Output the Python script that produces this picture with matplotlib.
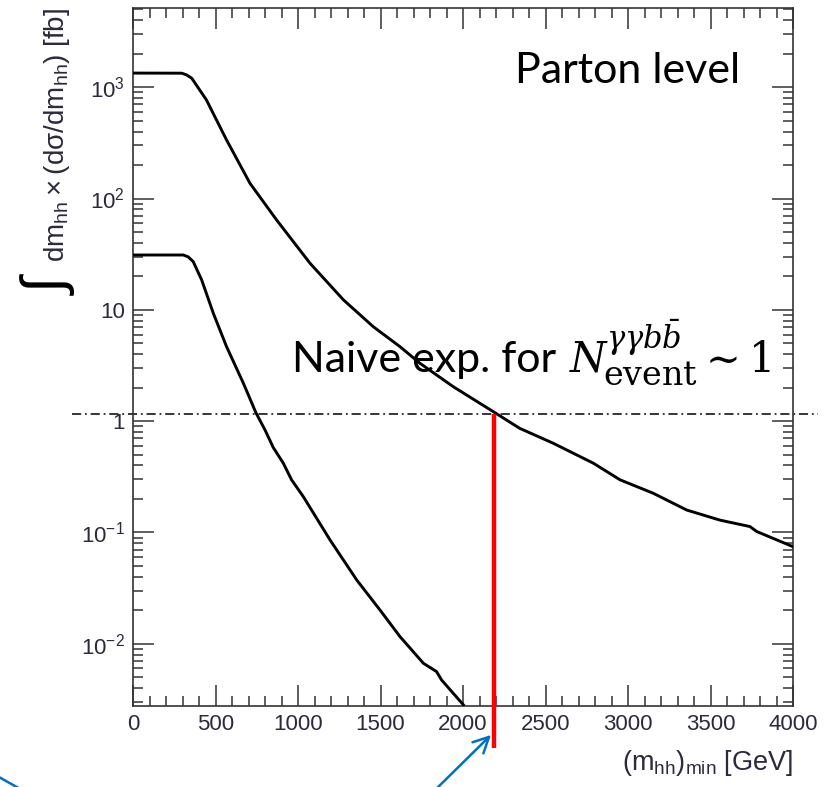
import numpy as np
import matplotlib.pyplot as plt
from matplotlib.lines import Line2D
from matplotlib.ticker import MultipleLocator, LogLocator, FixedLocator, FixedFormatter, NullFormatter

plt.rcParams['font.family'] = ['Liberation Sans', 'DejaVu Sans']
plt.rcParams['mathtext.fontset'] = 'dejavuserif'

# integrated cross section above (m_hh)_min
x_upper = [0, 295, 325, 356, 445, 567, 709, 871, 1073, 1275, 1456, 1618, 1739, 1941,
           2194, 2343, 2547, 2790, 2952, 3153, 3356, 3558, 3739, 3780, 4000]
y_upper = [1340, 1337, 1290, 1205, 769, 336, 137, 64, 26.2, 12.3, 7.06, 4.67, 3.31, 2.04,
           1.19, 0.863, 0.633, 0.419, 0.297, 0.225, 0.159, 0.129, 0.113, 0.102, 0.0745]

x_lower = [0, 305, 335, 365, 416, 487, 567, 669, 745, 800, 850, 911, 961, 1032,
           1194, 1356, 1497, 1618, 1760, 1840, 1870, 2002]
y_lower = [31.1, 31.1, 29.9, 27.1, 18.6, 9.3, 4.67, 2.19, 1.19, 0.834, 0.58, 0.419, 0.297, 0.21,
           0.0857, 0.0374, 0.0201, 0.0116, 0.00668, 0.00562, 0.00473, 0.00283]

ytick_vals = [1e-2, 1e-1, 1, 10, 100, 1000]
ytick_labels = [r'$\mathregular{10^{-2}}$', r'$\mathregular{10^{-1}}$', '1', '10',
                r'$\mathregular{10^{2}}$', r'$\mathregular{10^{3}}$']

n_event_level = 1.165   # sigma giving one gamma gamma b bbar event
mhh_cut = 2190          # where the upper curve crosses it
line_span = [-370, 4150]
red_bottom = 0.00116

W, H = 833, 787
fig = plt.figure(figsize=(W / 100, H / 100), dpi=100)
ax = fig.add_axes([133 / W, 1 - 706 / H, 660 / W, 698 / H])

ax.plot(x_upper, y_upper, color='black', lw=2.1, zorder=3)
ax.plot(x_lower, y_lower, color='black', lw=2.1, zorder=3)

ax.plot(line_span, [n_event_level, n_event_level], color='black', lw=1.1,
        dashes=(6, 2.5, 1.2, 2.5), clip_on=False)
ax.plot([mhh_cut, mhh_cut], [n_event_level, red_bottom], color='#ff0000', lw=3.2,
        clip_on=False, solid_capstyle='butt', zorder=4)

ax.set_yscale('log')
ax.set_xlim(0, 4000)
ax.set_ylim(0.00276, 5150)

ax.xaxis.set_major_locator(MultipleLocator(500))
ax.xaxis.set_minor_locator(MultipleLocator(100))
ax.yaxis.set_major_locator(FixedLocator(ytick_vals))
ax.yaxis.set_major_formatter(FixedFormatter(ytick_labels))
ax.yaxis.set_minor_locator(LogLocator(base=10, subs=np.arange(2, 10), numticks=30))
ax.yaxis.set_minor_formatter(NullFormatter())

ax.tick_params(which='both', direction='in', top=True, right=True, color='#333333', width=1.1)
ax.tick_params(which='major', length=15, labelsize=16, pad=6, labelcolor='#2a2a3a')
ax.tick_params(which='minor', length=7.5)
for s in ax.spines.values():
    s.set_linewidth(1.2)
    s.set_color('#333333')

# axis titles, ROOT style (aligned to the end of the axis)
fig.text(793 / W, 1 - 770 / H, r'$\mathregular{(m_{hh})_{min}}$ [GeV]', ha='right',
         va='baseline', fontsize=19.5, color='#2a2a3a')
fig.text(72 / W, 1 - 8 / H, r'$\mathregular{dm_{hh}\times(dσ/dm_{hh})}$ [fb]',
         rotation=90, ha='right', va='top', fontsize=20, color='#2a2a3a')
fig.text(50 / W, 1 - 287 / H, '∫', rotation=90, ha='center', va='center',
         fontsize=42, color='black')

# labels in the plot, drawn under the curves
fx = lambda px: px / W
fy = lambda py: 1 - py / H
kw = dict(transform=fig.transFigure, ha='left', va='baseline', zorder=1, clip_on=False)
ax.text(fx(515), fy(83), 'Parton level', family='Lato', fontsize=31, **kw)
ax.text(fx(292), fy(372), 'Naive exp. for', family='Lato', fontsize=31, **kw)
ax.text(fx(569), fy(372), r'$N$', fontsize=30, **kw)
ax.text(fx(606), fy(349), r'$\gamma\gamma b\bar{b}$', fontsize=22, **kw)
ax.text(fx(603), fy(385), r'$\mathrm{event}$', fontsize=24, **kw)
ax.text(fx(698), fy(372), r'$\sim$', fontsize=30, **kw)
ax.text(fx(748), fy(372), r'$\mathrm{1}$', fontsize=30, **kw)

# blue call-out arrows
fig.add_artist(Line2D([-10, 22], [H - 772, H - 790], transform=None, color='#0070c0', lw=1.8))
ax.annotate('', xy=(493, H - 733), xycoords='figure pixels',
            xytext=(430, -8), textcoords='figure pixels',
            arrowprops=dict(arrowstyle='->', color='#0070c0', lw=1.8, mutation_scale=28))

fig.savefig('out.png', dpi=100)
